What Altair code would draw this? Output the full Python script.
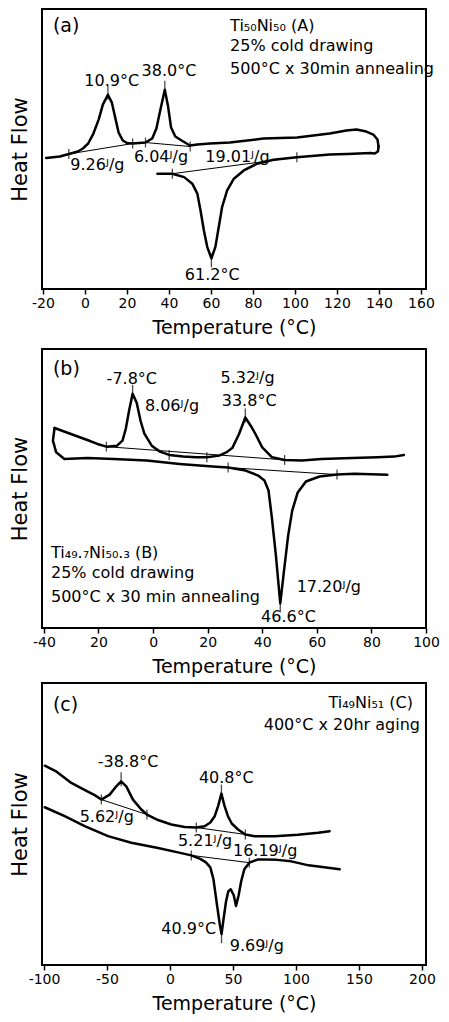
import altair as alt
import pandas as pd

FONT = "DejaVu Sans"

# ---------------- Panel (a) ----------------
a_heat_T = [-18.5, -12, -7.7, -3.4, -1, 1.5, 4, 6.5, 8.5, 10.9, 12.8, 14.5, 16, 18, 20, 22.7, 28.8, 32, 34, 35.8,
            38.0, 39.5, 41, 43, 46, 50, 53.5, 59.6, 69, 85, 101, 116.5, 124.5, 129.3, 134, 137.3, 139.3, 139.8]
a_heat_y = [131.5, 133, 135.5, 138, 141, 146, 156, 170, 185, 195, 187, 171, 157, 149, 146.5, 146, 147, 151, 161, 179,
            200, 184, 162, 153, 149, 144, 145, 146, 147, 151, 152, 156, 159, 160, 158, 155, 150, 143]
a_cool_T = [139.8, 139.5, 138, 136, 125, 116.5, 100.9, 89.8, 81.9, 75.6, 70.9, 67.7, 65.3, 63.7, 62.1, 60.2,
            58.2, 56.6, 55.0, 53.5, 51.1, 47.2, 41.6, 34.5]
a_cool_y = [143, 138, 136, 136.5, 135.5, 135, 132.3, 129.7, 125.7, 119, 110.7, 99, 82.3, 62.3, 42.3, 30.7,
            42.3, 59, 79, 95.7, 105.7, 112.3, 115.7, 115.7]
a_base_T = [[-7.7, 22.7], [28.8, 50.1], [41.6, 100.9]]
a_base_y = [[135.5, 146], [147, 143], [115.7, 132.3]]
a_mark_T = [-7.7, 22.7, 28.8, 50.1, 41.6, 100.9]
a_mark_y = [135.5, 146, 147, 143, 115.7, 132.3]
a_peak_T = [10.9, 38.0, 60.2]
a_peak_y = [197, 202, 28.7]
a_left_txt = ["Ti₅₀Ni₅₀ (A)", "25% cold drawing", "500°C x 30min annealing", "9.26ᴶ/g", "6.04ᴶ/g", "19.01ᴶ/g"]
a_left_T = [69.1, 69.1, 69.1, -7.0, 23.3, 57.3]
a_left_y = [264, 244, 221, 124, 132, 132]
a_center_txt = ["10.9°C", "38.0°C", "61.2°C"]
a_center_T = [12.7, 40.0, 60.6]
a_center_y = [209, 219, 14]
a_right_txt, a_right_T, a_right_y = [], [], []
a_letter = "(a)"
a_letter_T, a_letter_y = -15.3, 264
a_ticks = [-20, 0, 20, 40, 60, 80, 100, 120, 140, 160]
a_tick_labels = ["-20", "0", "20", "40", "60", "80", "100", "120", "140", "160"]

# ---------------- Panel (b) ----------------
b_up_T = [-36.1, -30.1, -24.1, -20.4, -17.1, -13.2, -11.2, -10.0, -8.8, -7.5, -6.0, -4.6, -3.2, -0.5, 2.5, 5.9,
          11.0, 15.8, 19.7, 24.2, 27.0, 29.1, 31.5, 33.8, 36.0, 37.5, 40.0, 43.6, 48.2, 54.5, 61.7, 70.1, 82.2,
          88.3, 91.9]
b_up_y = [200.7, 194.7, 188.7, 184.7, 182, 183, 188, 200, 218, 235, 226, 208, 195, 183, 177, 173.7,
          172, 171.3, 171.3, 173, 176.5, 181, 194.7, 211.3, 202, 194.7, 181.3, 171.3, 168.7, 168, 169.7, 170.3,
          171.3, 172, 173.7]
b_low_T = [-36.1, -36.7, -35.5, -32.5, -24.1, -14.4, -2.3, 9.7, 21.8, 27.5, 33.9, 38.5, 40.8, 42.3, 43.5, 45.0,
           46.6, 48.0, 49.5, 51.0, 53.0, 56.0, 61.0, 67.4, 73.8, 85.8]
b_low_y = [200.7, 188, 176.3, 169.7, 170.7, 169.7, 168, 164.7, 162, 161, 158, 153, 148, 138, 111.3, 73,
           24.7, 58, 93, 118, 136, 147, 152, 154, 154.7, 153.7]
b_base_T = [[-17.1, 48.2], [27.5, 67.4]]
b_base_y = [[182, 168.7], [161, 154]]
b_mark_T = [-17.1, 5.9, 19.7, 48.2, 27.5, 67.4]
b_mark_y = [182, 173.7, 171.3, 168.7, 161, 154]
b_peak_T = [-7.5, 33.8, 46.6]
b_peak_y = [237, 213.3, 22.7]
b_left_txt = ["8.06ᴶ/g", "Ti₄₉.₇Ni₅₀.₃ (B)", "25% cold drawing", "500°C x 30 min annealing", "17.20ᴶ/g"]
b_left_T = [-3.0, -37.4, -37.4, -37.4, 52.6]
b_left_y = [223, 75, 55, 31, 41]
b_center_txt = ["-7.8°C", "5.32ᴶ/g", "33.8°C", "46.6°C"]
b_center_T = [-7.8, 34.6, 35.2, 49.6]
b_center_y = [250, 251, 228, 11]
b_right_txt, b_right_T, b_right_y = [], [], []
b_letter = "(b)"
b_letter_T, b_letter_y = -36.7, 260
b_ticks = [-40, -20, 0, 20, 40, 60, 80, 100]
b_tick_labels = ["-40", "20", "0", "20", "40", "60", "80", "100"]

# ---------------- Panel (c) ----------------
c_up_T = [-99.4, -90, -78.3, -66, -59.8, -54.5, -47.9, -42.6, -38.8, -34.7, -29.4, -22.8, -18.3, -9.5, 1, 11.7,
          20.9, 27.5, 32, 35.5, 38.3, 40.8, 43.2, 46, 49, 54, 59.8, 67.2, 83.1, 101.6, 117.5, 126.7]
c_up_y = [200, 194, 182.7, 174.5, 170.5, 166, 171, 179.3, 184.3, 179.3, 166, 156, 151, 145.5, 141, 138.5,
          138, 139.3, 143, 149.3, 160, 172, 160, 149.3, 142, 136, 131, 129.3, 129.3, 130.7, 132.7, 134.3]
c_low_T = [-99.4, -83.6, -67.7, -49.2, -30.7, -9.5, 6.3, 16.9, 24, 28.5, 32, 34.5, 37, 39.5, 40.9, 42.5, 44.5,
           46.3, 48.2, 50.6, 52.4, 54.5, 56.5, 59, 63, 70, 85, 96.3, 110, 134.7]
c_low_y = [158.3, 149.3, 139.3, 129.3, 122.7, 117.5, 113, 110, 106.5, 103, 98, 86, 63, 41, 31, 46, 64,
           74, 76, 70, 59.3, 70, 84, 96, 102.7, 106, 105.5, 104, 100, 96]
c_base_T = [[-54.5, -18.3], [20.9, 59.8], [16.9, 63.0]]
c_base_y = [[166, 151], [138, 131], [110, 102.7]]
c_mark_T = [-54.5, -18.3, 20.9, 59.8, 16.9, 63.0]
c_mark_y = [166, 151, 138, 131, 110, 102.7]
c_peak_T = [-38.8, 40.8, 40.9]
c_peak_y = [186.3, 174, 29]
c_left_txt = ["5.62ᴶ/g", "5.21ᴶ/g", "16.19ᴶ/g", "40.9°C", "9.69ᴶ/g"]
c_left_T = [-71.7, 6.3, 50, -6.9, 47.4]
c_left_y = [149, 124, 114, 36, 19]
c_center_txt = ["-38.8°C", "40.8°C"]
c_center_T = [-33.3, 44.7]
c_center_y = [204, 188]
c_right_txt = ["Ti₄₉Ni₅₁ (C)", "400°C x 20hr aging"]
c_right_T = [192.9, 198.4]
c_right_y = [263, 241]
c_letter = "(c)"
c_letter_T, c_letter_y = -92.9, 261
c_ticks = [-100, -50, 0, 50, 100, 150, 200]
c_tick_labels = ["-100", "-50", "0", "50", "100", "150", "200"]

WIDTH = 384


def label_expr(values, labels):
    expr = "''"
    for v, l in reversed(list(zip(values, labels))):
        expr = f"datum.value == {v} ? '{l}' : ({expr})"
    return expr


def panel(curves, base_T, base_y, mark_T, mark_y, peak_T, peak_y, left, center, right, letter,
          xdom, ydom, ticks, tick_labels, height):
    xenc = alt.X("T:Q", scale=alt.Scale(domain=xdom, nice=False, zero=False),
                 axis=alt.Axis(values=ticks, labelExpr=label_expr(ticks, tick_labels),
                               title="Temperature (°C)", tickSize=5, tickWidth=1.5, tickColor="black",
                               labelFontSize=14, labelPadding=2, labelFont=FONT, labelColor="black",
                               titleFontSize=19, titleFont=FONT, titleFontWeight="normal",
                               titleColor="black", titlePadding=8, domain=False, grid=False,
                               labelFlush=False))
    yenc = alt.Y("y:Q", scale=alt.Scale(domain=ydom, nice=False, zero=False),
                 axis=alt.Axis(title="Heat Flow", labels=False, ticks=False, domain=False, grid=False,
                               titleFontSize=21, titleFont=FONT, titleFontWeight="normal",
                               titleColor="black", titlePadding=12, minExtent=0))
    rows = []
    for s, (T, y) in enumerate(curves):
        for i, (t, v) in enumerate(zip(T, y)):
            rows.append({"T": t, "y": v, "s": s, "i": i})
    cdf = pd.DataFrame(rows)
    brows = []
    for s, (T, y) in enumerate(zip(base_T, base_y)):
        for i, (t, v) in enumerate(zip(T, y)):
            brows.append({"T": t, "y": v, "s": s, "i": i})
    bdf = pd.DataFrame(brows)
    mdf = pd.DataFrame({"T": mark_T, "y": mark_y})
    pdf = pd.DataFrame({"T": peak_T, "y": peak_y})

    layers = [
        alt.Chart(cdf).mark_line(color="black", strokeWidth=2.5, strokeJoin="round", strokeCap="round")
        .encode(x=xenc, y=yenc, detail="s:N", order="i:Q"),
        alt.Chart(bdf).mark_line(color="black", strokeWidth=1).encode(x=xenc, y=yenc, detail="s:N",
                                                                        order="i:Q"),
        alt.Chart(mdf).mark_tick(orient="vertical", color="black", size=10, thickness=1.3)
        .encode(x=xenc, y=yenc),
        alt.Chart(pdf).mark_tick(orient="vertical", color="black", size=14, thickness=1.3)
        .encode(x=xenc, y=yenc),
    ]
    for (txt, T, y), align in ((left, "left"), (center, "center"), (right, "right")):
        if txt:
            tdf = pd.DataFrame({"T": T, "y": y, "t": txt})
            layers.append(alt.Chart(tdf).mark_text(font=FONT, fontSize=16, align=align, baseline="middle",
                                                   color="black").encode(x=xenc, y=yenc, text="t:N"))
    ltxt, lT, ly = letter
    layers.append(alt.Chart(pd.DataFrame({"T": [lT], "y": [ly], "t": [ltxt]}))
                  .mark_text(font=FONT, fontSize=19, align="left", baseline="middle", color="black")
                  .encode(x=xenc, y=yenc, text="t:N"))
    return alt.layer(*layers).properties(
        width=WIDTH, height=height,
        view=alt.ViewBackground(stroke="black", strokeWidth=2, fill="white"))


pa = panel([(a_heat_T, a_heat_y), (a_cool_T, a_cool_y)], a_base_T, a_base_y, a_mark_T, a_mark_y,
           a_peak_T, a_peak_y, (a_left_txt, a_left_T, a_left_y), (a_center_txt, a_center_T, a_center_y),
           (a_right_txt, a_right_T, a_right_y), (a_letter, a_letter_T, a_letter_y),
           [-20.48, 162.4], [0, 281], a_ticks, a_tick_labels, 280)
pb = panel([(b_up_T, b_up_y), (b_low_T, b_low_y)], b_base_T, b_base_y, b_mark_T, b_mark_y,
           b_peak_T, b_peak_y, (b_left_txt, b_left_T, b_left_y), (b_center_txt, b_center_T, b_center_y),
           (b_right_txt, b_right_T, b_right_y), (b_letter, b_letter_T, b_letter_y),
           [-40.7, 100], [0, 280], b_ticks, b_tick_labels, 279)
pc = panel([(c_up_T, c_up_y), (c_low_T, c_low_y)], c_base_T, c_base_y, c_mark_T, c_mark_y,
           c_peak_T, c_peak_y, (c_left_txt, c_left_T, c_left_y), (c_center_txt, c_center_T, c_center_y),
           (c_right_txt, c_right_T, c_right_y), (c_letter, c_letter_T, c_letter_y),
           [-101.6, 203.2], [0, 283], c_ticks, c_tick_labels, 282)

chart = alt.vconcat(alt.vconcat(pa, pb, spacing=10), pc, spacing=5).properties(
    padding={"left": 0, "top": 0, "right": 0, "bottom": 0}
).configure_view(stroke="black", strokeWidth=2)

chart.save("out.html", embed_options={"renderer": "svg", "actions": False})
